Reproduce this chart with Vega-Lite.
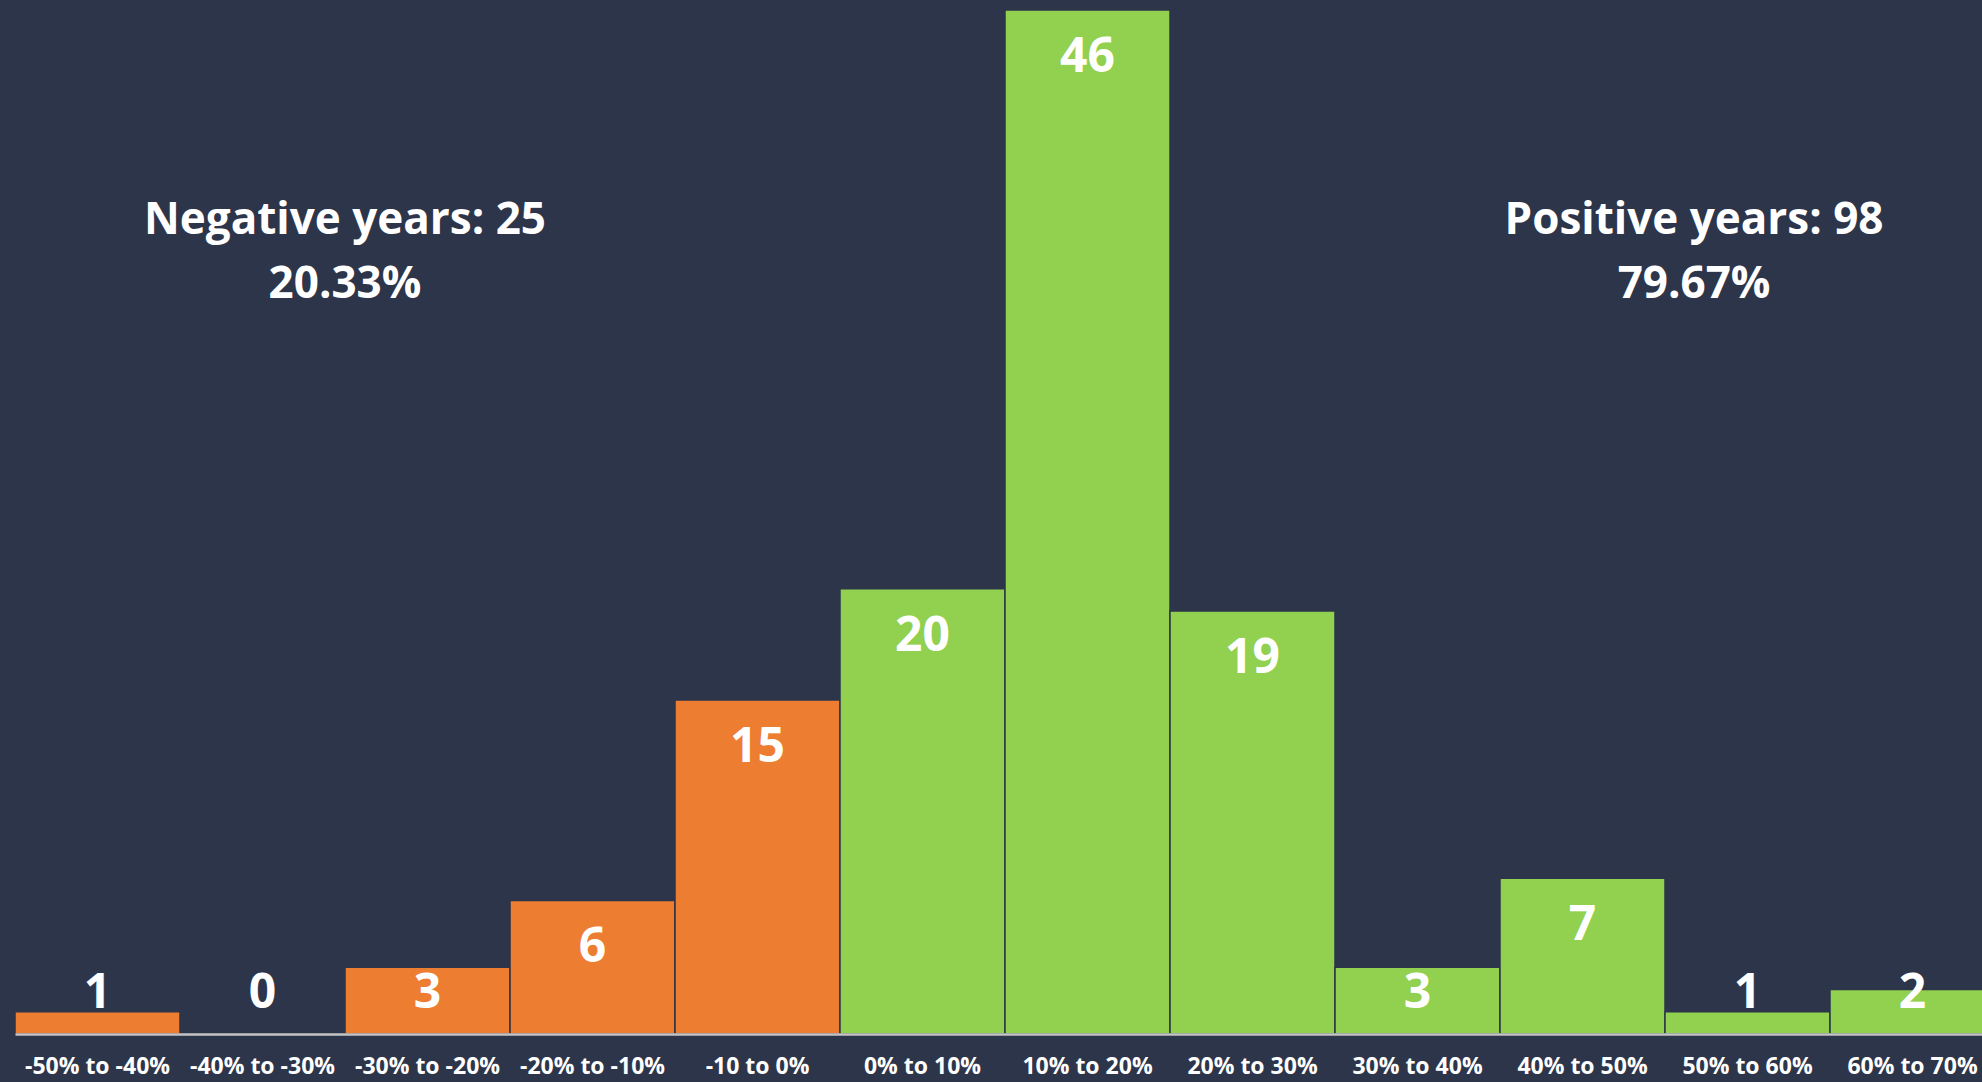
{
  "$schema": "https://vega.github.io/schema/vega-lite/v6.json",
  "width": 1980,
  "height": 1024,
  "autosize": {"type": "none"},
  "padding": {"left": 15, "top": 10, "right": 0, "bottom": 48},
  "background": "#2D354A",
  "config": {"view": {"stroke": null}, "font": "Open Sans"},
  "datasets": {
    "bins": [
      {"range": "-50% to -40%", "count": 1, "sign": "negative"},
      {"range": "-40% to -30%", "count": 0, "sign": "negative"},
      {"range": "-30% to -20%", "count": 3, "sign": "negative"},
      {"range": "-20% to -10%", "count": 6, "sign": "negative"},
      {"range": "-10 to 0%", "count": 15, "sign": "negative"},
      {"range": "0% to 10%", "count": 20, "sign": "positive"},
      {"range": "10% to 20%", "count": 46, "sign": "positive"},
      {"range": "20% to 30%", "count": 19, "sign": "positive"},
      {"range": "30% to 40%", "count": 3, "sign": "positive"},
      {"range": "40% to 50%", "count": 7, "sign": "positive"},
      {"range": "50% to 60%", "count": 1, "sign": "positive"},
      {"range": "60% to 70%", "count": 2, "sign": "positive"}
    ],
    "neg": [{"range": "-30% to -20%", "note": "Negative years: 25\n20.33%"}],
    "pos": [{"range": "50% to 60%", "note": "Positive years: 98\n79.67%"}]
  },
  "data": {"name": "bins"},
  "layer": [
    {
      "mark": {"type": "bar", "stroke": "#2D354A", "strokeWidth": 1.5},
      "encoding": {
        "x": {
          "field": "range", "type": "nominal", "sort": null,
          "scale": {
            "domain": ["-50% to -40%", "-40% to -30%", "-30% to -20%", "-20% to -10%", "-10 to 0%", "0% to 10%", "10% to 20%", "20% to 30%", "30% to 40%", "40% to 50%", "50% to 60%", "60% to 70%"],
            "paddingInner": 0, "paddingOuter": 0
          },
          "axis": {
            "title": null, "labelAngle": 0, "ticks": false, "zindex": 1,
            "domainColor": "#C4C4C4", "domainWidth": 2.5,
            "labelColor": "#FFFFFF", "labelFont": "Open Sans", "labelFontWeight": "bold",
            "labelFontSize": 23, "labelPadding": 21, "labelOverlap": false, "labelLimit": 0
          }
        },
        "y": {"field": "count", "type": "quantitative", "scale": {"domain": [0, 46], "nice": false}, "axis": null},
        "color": {
          "field": "sign", "type": "nominal",
          "scale": {"domain": ["negative", "positive"], "range": ["#ED7D31", "#92D050"]},
          "legend": null
        }
      }
    },
    {
      "transform": [{"filter": "datum.count >= 4"}],
      "mark": {"type": "text", "color": "#FFFFFF", "fontSize": 48, "fontWeight": "bold", "font": "Open Sans", "baseline": "middle", "dy": 48},
      "encoding": {
        "x": {"field": "range", "type": "nominal", "sort": null},
        "y": {"field": "count", "type": "quantitative"},
        "text": {"field": "count", "type": "quantitative"}
      }
    },
    {
      "transform": [{"filter": "datum.count < 4"}],
      "mark": {"type": "text", "color": "#FFFFFF", "fontSize": 48, "fontWeight": "bold", "font": "Open Sans", "baseline": "middle", "dy": -40},
      "encoding": {
        "x": {"field": "range", "type": "nominal", "sort": null},
        "y": {"datum": 0, "type": "quantitative"},
        "text": {"field": "count", "type": "quantitative"}
      }
    },
    {
      "data": {"name": "neg"},
      "mark": {"type": "text", "color": "#FFFFFF", "fontSize": 44, "fontWeight": "bold", "font": "Open Sans", "baseline": "middle", "align": "center", "lineBreak": "\n", "lineHeight": 64},
      "encoding": {
        "x": {"field": "range", "type": "nominal", "sort": null, "bandPosition": 0},
        "y": {"datum": 36.53, "type": "quantitative"},
        "text": {"field": "note", "type": "nominal"}
      }
    },
    {
      "data": {"name": "pos"},
      "mark": {"type": "text", "color": "#FFFFFF", "fontSize": 44, "fontWeight": "bold", "font": "Open Sans", "baseline": "middle", "align": "center", "lineBreak": "\n", "lineHeight": 64},
      "encoding": {
        "x": {"field": "range", "type": "nominal", "sort": null, "bandPosition": 0.176},
        "y": {"datum": 36.53, "type": "quantitative"},
        "text": {"field": "note", "type": "nominal"}
      }
    }
  ]
}
